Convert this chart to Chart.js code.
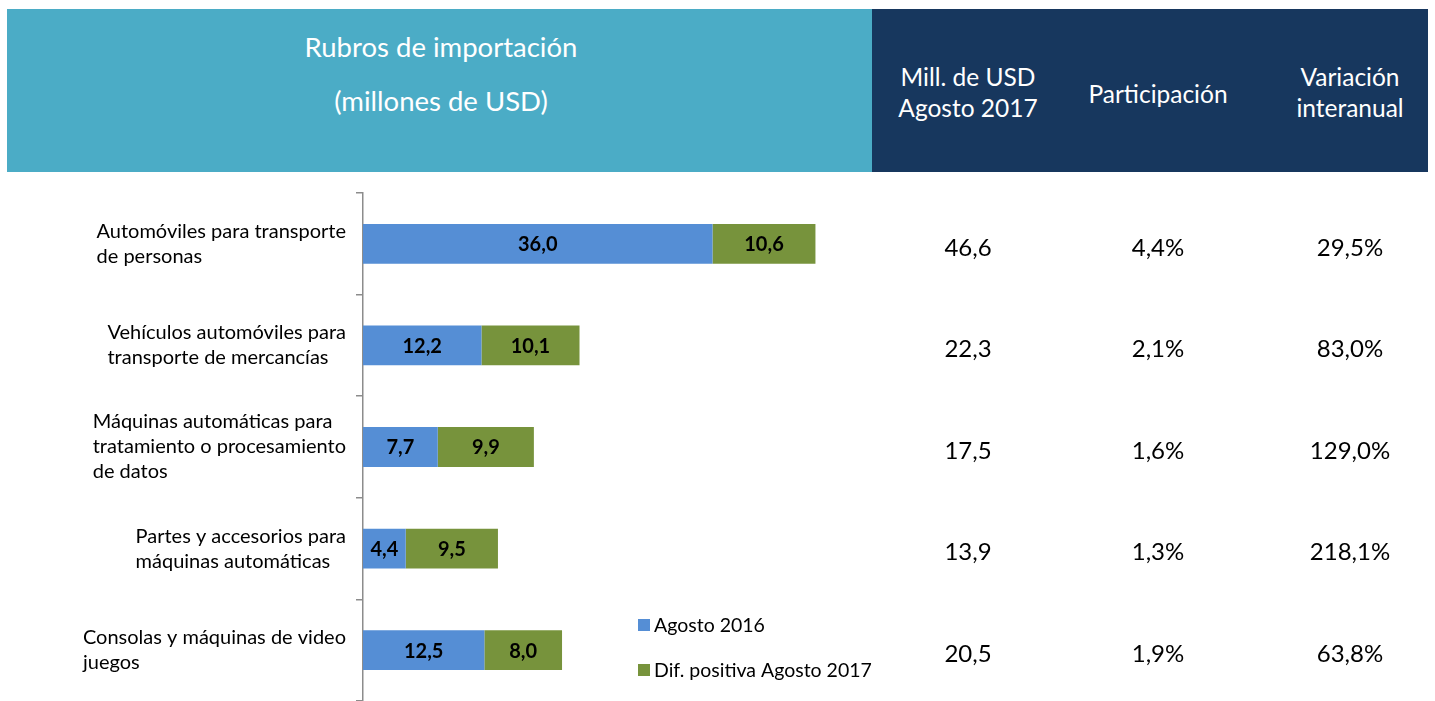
<!DOCTYPE html>
<html>
<head>
<meta charset="utf-8">
<script src="https://cdn.jsdelivr.net/npm/chart.js@4"></script>
<style>
  html, body { margin: 0; padding: 0; background: #fff; }
  body { width: 1435px; height: 701px; position: relative; overflow: hidden; font-family: Lato, 'Open Sans', sans-serif; }
  .hdr { position: absolute; top: 9px; height: 163px; color: #fff; }
  .hdr-left { left: 7px; width: 865px; background: #4BACC6; }
  .hdr-right { left: 872px; width: 556px; background: #17375E; }
  .ht { position: absolute; text-align: center; white-space: nowrap; transform: translate(-50%, -50%); line-height: 31px; }
  canvas { position: absolute; left: 0; top: 0; }
</style>
</head>
<body>
<div class="hdr hdr-left">
  <div class="ht" style="left:434px; top:37px; font-size:27.5px;">Rubros de importación</div>
  <div class="ht" style="left:434px; top:91px; font-size:27.5px;">(millones de USD)</div>
</div>
<div class="hdr hdr-right">
  <div class="ht" style="left:96px; top:83px; font-size:24.5px;">Mill. de USD<br>Agosto 2017</div>
  <div class="ht" style="left:286px; top:84px; font-size:24.5px;">Participación</div>
  <div class="ht" style="left:478px; top:83px; font-size:24.5px;">Variación<br>interanual</div>
</div>
<canvas id="chart" width="1435" height="701"></canvas>
<script>
// categories (one line per entry)
const categories = [
  ['Automóviles para transporte', 'de personas'],
  ['Vehículos automóviles para', 'transporte de mercancías'],
  ['Máquinas automáticas para', 'tratamiento o procesamiento', 'de datos'],
  ['Partes y accesorios para', 'máquinas automáticas'],
  ['Consolas y máquinas de video', 'juegos']
];
const agosto2016 = [36.0, 12.2, 7.7, 4.4, 12.5];
const difPositiva = [10.6, 10.1, 9.9, 9.5, 8.0];
const millAgosto2017 = ['46,6', '22,3', '17,5', '13,9', '20,5'];
const participacion = ['4,4%', '2,1%', '1,6%', '1,3%', '1,9%'];
const variacion = ['29,5%', '83,0%', '129,0%', '218,1%', '63,8%'];
const seriesNames = ['Agosto 2016', 'Dif. positiva Agosto 2017'];

const fmt = v => v.toFixed(1).replace('.', ',');

const overlay = {
  id: 'overlay',
  afterDatasetsDraw(chart) {
    const ctx = chart.ctx;
    const y = chart.scales.y;
    ctx.save();
    // value labels inside bars
    ctx.font = 'bold 20px Lato';
    ctx.fillStyle = '#000';
    ctx.textAlign = 'center';
    ctx.textBaseline = 'middle';
    chart.data.datasets.forEach((ds, di) => {
      chart.getDatasetMeta(di).data.forEach((bar, i) => {
        const left = Math.min(bar.x, bar.base), right = Math.max(bar.x, bar.base);
        ctx.fillText(fmt(ds.data[i]), (left + right) / 2, bar.y + 1);
      });
    });
    // category labels: block left aligned, right edge near axis
    ctx.font = '20px Lato';
    ctx.textAlign = 'left';
    categories.forEach((lines, i) => {
      const cy = y.getPixelForValue(i);
      const w = Math.max(...lines.map(l => ctx.measureText(l).width));
      const x0 = 346 - w;
      const lh = 25;
      lines.forEach((l, j) => {
        ctx.fillText(l, x0, cy + (j - (lines.length - 1) / 2) * lh);
      });
    });
    // table columns
    ctx.font = '24px Lato';
    ctx.textAlign = 'center';
    categories.forEach((_, i) => {
      const cy = y.getPixelForValue(i) + 4;
      ctx.fillText(millAgosto2017[i], 968, cy);
      ctx.fillText(participacion[i], 1158, cy);
      ctx.fillText(variacion[i], 1350, cy);
    });
    // legend
    ctx.font = '19.5px Lato';
    ctx.textAlign = 'left';
    [625, 670].forEach((ly, k) => {
      ctx.fillStyle = chart.data.datasets[k].backgroundColor;
      ctx.fillRect(638, ly - 6, 12, 12);
      ctx.fillStyle = '#000';
      ctx.fillText(seriesNames[k], 654, ly + 1);
    });
    ctx.restore();
  }
};

new Chart(document.getElementById('chart'), {
  type: 'bar',
  data: {
    labels: categories.map(c => c.join(' ')),
    datasets: [
      { label: seriesNames[0], data: agosto2016, backgroundColor: '#558ED5', borderWidth: 0, barPercentage: 0.98, categoryPercentage: 0.4 },
      { label: seriesNames[1], data: difPositiva, backgroundColor: '#77933C', borderWidth: 0, barPercentage: 0.98, categoryPercentage: 0.4 }
    ]
  },
  options: {
    indexAxis: 'y',
    responsive: false,
    animation: false,
    layout: { padding: { left: 356, top: 193, right: 538, bottom: 0 } },
    plugins: { legend: { display: false }, tooltip: { enabled: false } },
    scales: {
      x: { stacked: true, min: 0, max: 55, display: false },
      y: {
        stacked: true,
        afterFit: s => { s.width = 7; },
        ticks: { display: false },
        grid: { drawOnChartArea: false, drawTicks: true, tickLength: 7, color: '#8C8C8C', lineWidth: 1.5, offset: true },
        border: { display: true, color: '#8C8C8C', width: 1.5 }
      }
    }
  },
  plugins: [overlay]
});
</script>
</body>
</html>
